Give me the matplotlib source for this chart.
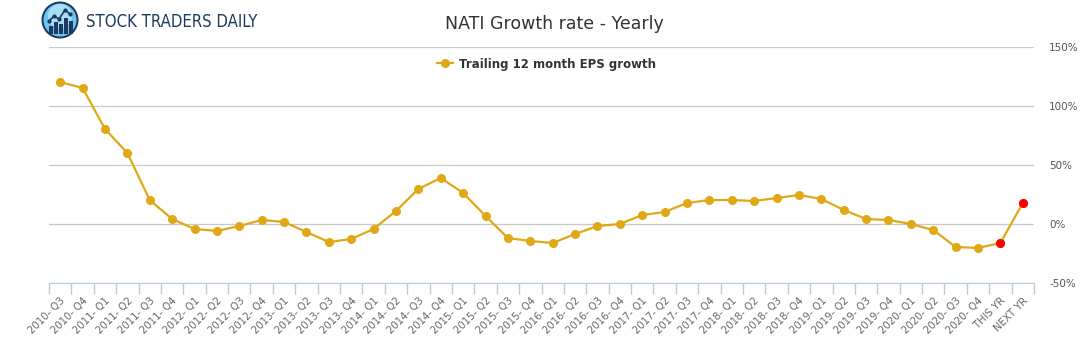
import numpy as np
import matplotlib
matplotlib.use("Agg")
import matplotlib.pyplot as plt
from matplotlib.patches import Circle, Rectangle

# Dane wykresu
labels = [
    "2010- Q3", "2010- Q4", "2011- Q1", "2011- Q2", "2011- Q3", "2011- Q4",
    "2012- Q1", "2012- Q2", "2012- Q3", "2012- Q4", "2013- Q1", "2013- Q2",
    "2013- Q3", "2013- Q4", "2014- Q1", "2014- Q2", "2014- Q3", "2014- Q4",
    "2015- Q1", "2015- Q2", "2015- Q3", "2015- Q4", "2016- Q1", "2016- Q2",
    "2016- Q3", "2016- Q4", "2017- Q1", "2017- Q2", "2017- Q3", "2017- Q4",
    "2018- Q1", "2018- Q2", "2018- Q3", "2018- Q4", "2019- Q1", "2019- Q2",
    "2019- Q3", "2019- Q4", "2020- Q1", "2020- Q2", "2020- Q3", "2020- Q4",
    "THIS YR", "NEXT YR",
]
eps_growth = [
    120.3, 115.3, 80.5, 60.2, 20.3, 4.2,
    -4.2, -5.9, -1.7, 3.4, 1.7, -6.8,
    -15.3, -12.7, -4.2, 11.0, 29.7, 39.0,
    26.3, 6.8, -11.9, -14.4, -16.1, -8.5,
    -1.7, 0.0, 7.6, 10.2, 17.8, 20.3,
    20.3, 19.5, 22.0, 24.6, 21.2, 11.9,
    4.2, 3.4, 0.0, -5.1, -19.5, -20.3,
    -16.1, 17.8,
]
estimate_idx = [42, 43]  # prognozy (czerwone punkty)
y_ticks = [-50, 0, 50, 100, 150]

W, H = 1091, 350
fig = plt.figure(figsize=(W / 100, H / 100), dpi=100)

# Obszar wykresu w pikselach: x 49..1034, y 47..283
ax = fig.add_axes([49 / W, 1 - 283 / H, 985 / W, 236 / H])

x = np.arange(len(eps_growth))
ax.plot(x, eps_growth, color="#E0A816", lw=1.6, marker="o", ms=5.5,
        mec="#E0A816", mfc="#E0A816", label="Trailing 12 month EPS growth", zorder=3)
ax.plot(x[estimate_idx], np.array(eps_growth)[estimate_idx], "o", color="#FF0000",
        ms=5.5, zorder=4)

ax.set_xlim(-0.5, len(eps_growth) - 0.5)
ax.set_ylim(-50, 150)
ax.set_yticks(y_ticks)
ax.set_yticklabels([f"{v}%" for v in y_ticks])
ax.yaxis.tick_right()
ax.tick_params(axis="y", length=0, pad=11, labelsize=7.5, labelcolor="#555555")
ax.grid(axis="y", color="#C8C8C8", lw=0.9)
ax.set_axisbelow(True)

ax.set_xticks(x)
ax.set_xticklabels(labels, rotation=45, ha="right", va="top", rotation_mode="anchor",
                   fontsize=7.3, color="#666666")
ax.set_xticks(np.arange(-0.5, len(eps_growth)), minor=True)
ax.tick_params(axis="x", which="major", length=0, pad=9)
ax.tick_params(axis="x", which="minor", length=8, color="#B8CCE0", width=1)

for s in ["top", "right", "left"]:
    ax.spines[s].set_visible(False)
ax.spines["bottom"].set_color("#B8CCE0")

leg = ax.legend(loc="upper center", bbox_to_anchor=(0.505, 1.0), frameon=False,
                handlelength=1.4, handletextpad=0.5,
                prop={"size": 8.5, "weight": "bold"})
for t in leg.get_texts():
    t.set_color("#333333")

fig.text(554 / W, 1 - 24 / H, "NATI Growth rate - Yearly", ha="center", va="center",
         fontsize=12.5, color="#333333")

# Logo
lax = fig.add_axes([40 / W, 1 - 40 / H, 40 / W, 40 / H])
lax.set_xlim(0, 40)
lax.set_ylim(0, 40)
lax.set_aspect("equal")
lax.axis("off")
lax.add_patch(Circle((20, 20), 18.5, fc="#1B3A5C"))
lax.add_patch(Circle((20, 20), 16.5, fc="#6CC4F2"))
lax.add_patch(Circle((20, 24), 12, fc="#A8DDF8", ec="none"))
for bx, bh in [(9, 8), (14, 12), (19, 10), (24, 16), (29, 13)]:
    lax.add_patch(Rectangle((bx, 6), 3.5, bh, fc="#1B3A5C"))
lax.plot([9, 14, 19, 25, 30], [19, 24, 21, 30, 26], color="#1B3A5C", lw=1.2,
         marker="o", ms=2)

fig.text(86 / W, 1 - 22 / H, "STOCK TRADERS DAILY", ha="left", va="center",
         fontsize=12, color="#1B3A5C", fontstretch="condensed", fontweight="medium",
         family=["DejaVu Sans"])

fig.savefig("out.png", dpi=100)
